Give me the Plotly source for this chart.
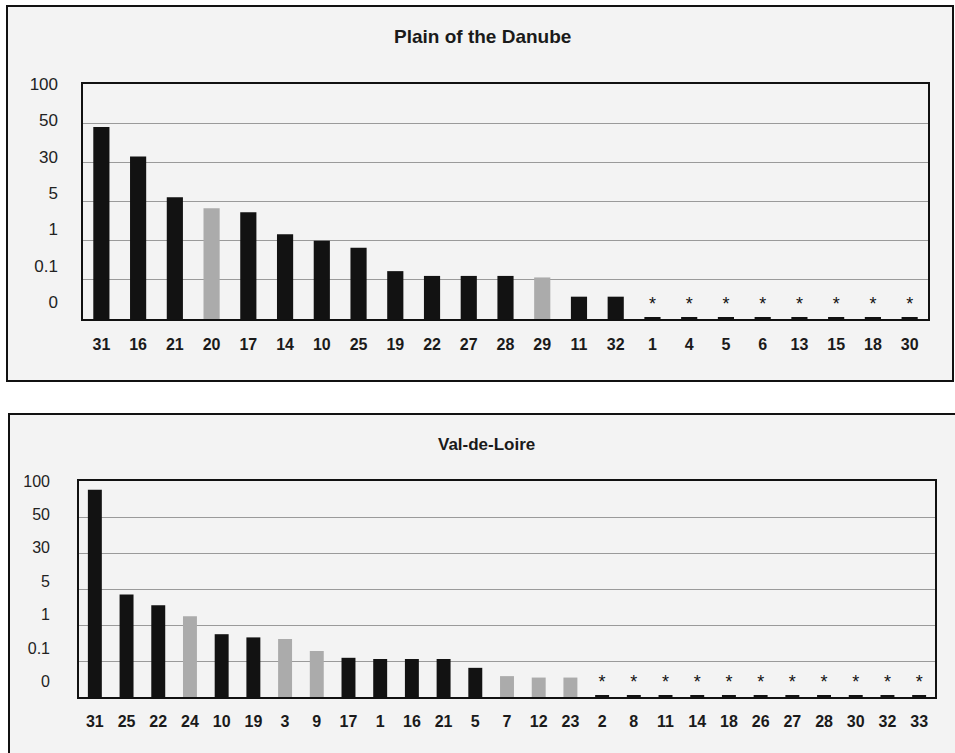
import numpy as np
import plotly.graph_objects as go

# ---- data ----
scale_labels = ["0", "0.1", "1", "5", "30", "50", "100"]
scale_values = [0, 0.1, 1, 5, 30, 50, 100]

title_top = "Plain of the Danube"
cats_top = ["31", "16", "21", "20", "17", "14", "10", "25", "19", "22", "27", "28",
            "29", "11", "32", "1", "4", "5", "6", "13", "15", "18", "30"]
vals_top = [48, 33, 7.7, 4.3, 3.9, 1.65, 1.0, 0.84, 0.30, 0.19, 0.19, 0.19,
            0.155, 0.057, 0.057, 0, 0, 0, 0, 0, 0, 0, 0]
grey_top = ["20", "29"]

title_bot = "Val-de-Loire"
cats_bot = ["31", "25", "22", "24", "10", "19", "3", "9", "17", "1", "16", "21", "5",
            "7", "12", "23", "2", "8", "11", "14", "18", "26", "27", "28", "30", "32", "33"]
vals_bot = [88, 4.4, 3.2, 1.96, 0.77, 0.69, 0.65, 0.35, 0.18, 0.15, 0.15, 0.15, 0.081,
            0.058, 0.054, 0.054, 0, 0, 0, 0, 0, 0, 0, 0, 0, 0, 0]
grey_bot = ["24", "3", "9", "7", "12", "23"]

# ---- styling ----
W, H = 955, 753
BLACK = "#121212"
GREY = "#ababab"
PANEL = "#f3f3f3"
FONT = "Liberation Sans, Arial, Helvetica, sans-serif"


def px_x(x):
    return x / W


def px_y(y):
    return 1 - y / H


def scale(v):
    # the chart's own piecewise value scale (equal steps between labelled values)
    return np.interp(v, scale_values, np.arange(len(scale_values)))


def bar_trace(cats, vals, greys, xa, ya):
    pos = scale(np.array(vals, dtype=float))
    heights = np.maximum(pos, 0.05)
    colors = [GREY if c in greys else BLACK for c in cats]
    texts = ["*" if v == 0 else "" for v in vals]
    return go.Bar(x=cats, y=heights, marker=dict(color=colors, line=dict(width=0)),
                  text=texts, textposition="outside", cliponaxis=False,
                  textfont=dict(family=FONT, size=18, color="#111"),
                  xaxis=xa, yaxis=ya, showlegend=False, hoverinfo="skip")


fig = go.Figure()
fig.add_trace(bar_trace(cats_top, vals_top, grey_top, "x", "y"))
fig.add_trace(bar_trace(cats_bot, vals_bot, grey_bot, "x2", "y2"))
# carriers for the label axes
fig.add_trace(go.Scatter(x=[cats_top[0]], y=[0], mode="markers", marker=dict(opacity=0),
                         xaxis="x", yaxis="y3", showlegend=False, hoverinfo="skip"))
fig.add_trace(go.Scatter(x=[cats_bot[0]], y=[0], mode="markers", marker=dict(opacity=0),
                         xaxis="x2", yaxis="y4", showlegend=False, hoverinfo="skip"))

top_dom_x = [px_x(83), px_x(928)]
top_dom_y = [px_y(319), px_y(84)]
bot_dom_x = [px_x(79), px_x(935)]
bot_dom_y = [px_y(697), px_y(481)]

common_x = dict(type="category", showline=True, mirror=True, linecolor="#111",
                linewidth=2, showgrid=False, ticks="", zeroline=False, automargin=False,
                tickfont=dict(family=FONT, size=16, color="#1a1a1a", weight="bold"))
common_y = dict(range=[0, 6], tickvals=list(range(7)), showticklabels=False,
                showline=True, mirror=True, linecolor="#111", linewidth=2, automargin=False,
                showgrid=True, gridcolor="#9a9a9a", gridwidth=1, zeroline=False, ticks="")
label_y = dict(range=[-0.47, 6.0], tickvals=list(range(7)), ticktext=scale_labels,
               showgrid=False, zeroline=False, showline=False, ticks="", side="left",
               automargin=False)

fig.update_layout(
    template="none",
    width=W, height=H, margin=dict(l=0, r=0, t=0, b=0, pad=0), autosize=False,
    paper_bgcolor="white", plot_bgcolor="rgba(0,0,0,0)",
    bargap=0.56, showlegend=False,
    xaxis=dict(domain=top_dom_x, anchor="y", ticklabelstandoff=10,
               range=[-0.5, len(cats_top) - 0.5], **common_x),
    yaxis=dict(domain=top_dom_y, anchor="x", **common_y),
    xaxis2=dict(domain=bot_dom_x, anchor="y2", ticklabelstandoff=9,
                range=[-0.5, len(cats_bot) - 0.5], **common_x),
    yaxis2=dict(domain=bot_dom_y, anchor="x2", **common_y),
    yaxis3=dict(overlaying="y", anchor="x", ticklabelstandoff=24,
                tickfont=dict(family=FONT, size=17, color="#222"), **label_y),
    yaxis4=dict(overlaying="y2", anchor="x2", ticklabelstandoff=28,
                tickfont=dict(family=FONT, size=16, color="#222"), **label_y),
    shapes=[
        dict(type="rect", xref="paper", yref="paper", layer="below",
             x0=px_x(7), x1=px_x(953), y0=px_y(381), y1=px_y(6),
             fillcolor=PANEL, line=dict(color="#111", width=2)),
        dict(type="rect", xref="paper", yref="paper", layer="below",
             x0=px_x(9), x1=px_x(975), y0=px_y(775), y1=px_y(414),
             fillcolor=PANEL, line=dict(color="#111", width=2)),
    ],
    annotations=[
        dict(text=title_top, xref="paper", yref="paper", x=px_x(482), y=px_y(37),
             showarrow=False, xanchor="center", yanchor="middle",
             font=dict(family=FONT, size=19, color="#1a1a1a", weight="bold")),
        dict(text=title_bot, xref="paper", yref="paper", x=px_x(486), y=px_y(444),
             showarrow=False, xanchor="center", yanchor="middle",
             font=dict(family=FONT, size=17, color="#1a1a1a", weight="bold")),
    ],
)

fig.write_html(
    "out.html",
    config={"displayModeBar": False},
    post_script=(
        "document.body.style.margin='0';document.body.style.padding='0';"
        "var d=document.getElementById('{plot_id}');"
        "d.style.position='fixed';d.style.top='0px';d.style.left='0px';"
    ),
)
